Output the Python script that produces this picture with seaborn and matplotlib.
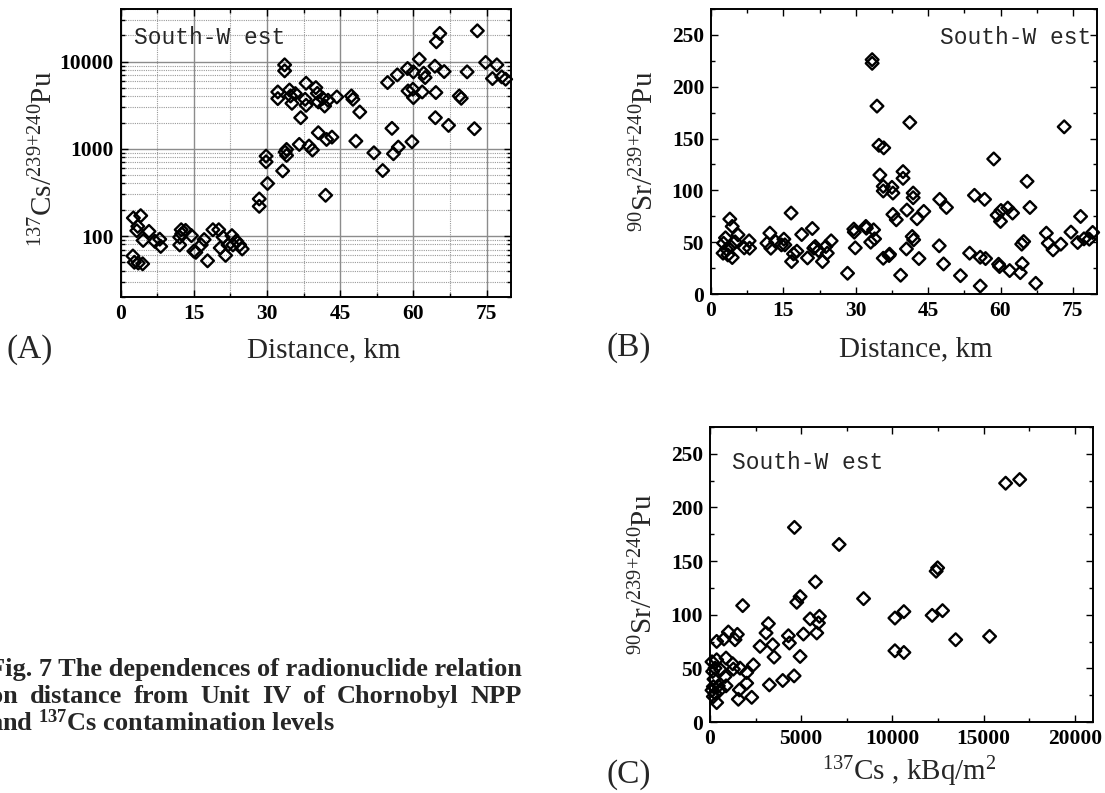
import numpy as np
import matplotlib
matplotlib.use('Agg')
import matplotlib.pyplot as plt
from matplotlib.ticker import MultipleLocator, LogLocator, FixedLocator, NullFormatter, FuncFormatter
import seaborn as sns

# Panel A: 137Cs / 239+240Pu vs distance (log scale)
dist_a = [2.6, 4.1, 3.5, 3.3, 5.8, 4.6, 2.5, 2.8, 3.6, 4.5, 7.0, 8.0, 8.2, 12.1, 12.1, 12.4, 12.5,
          13.3, 14.5, 15.0, 15.4, 16.5, 17.1, 17.8, 18.9, 20.1, 21.0, 20.4, 21.5, 22.0, 22.8, 23.7,
          23.0, 24.4, 24.9, 28.4, 28.4, 29.8, 29.8, 30.1, 32.2, 32.2, 33.2, 33.6, 33.6, 34.0, 34.0,
          33.7, 34.6, 34.8, 35.1, 35.8, 36.6, 36.9, 38.0, 37.8, 38.0, 38.6, 39.3, 40.0, 40.3, 40.5,
          40.5, 41.4, 41.8, 42.0, 42.2, 42.5, 43.3, 44.3, 47.3, 47.6, 48.2, 49.0, 51.9, 53.7, 54.7,
          55.6, 55.9, 56.7, 56.9, 58.8, 58.9, 59.7, 59.9, 60.0, 60.0, 61.2, 61.8, 62.1, 62.4, 64.4,
          64.5, 64.6, 64.7, 65.4, 66.3, 67.2, 69.4, 69.8, 71.0, 72.5, 73.1, 74.8, 76.2, 77.1, 78.1,
          78.9]
ratio_cs_pu = [161, 171, 129, 115, 113, 89, 59, 50, 49, 48, 87, 92, 76, 79, 97, 118, 106, 116, 101,
               67, 65, 79, 91, 52, 118, 118, 97, 73, 60, 79, 101, 88, 79, 79, 71, 266, 219, 824,
               709, 400, 4480, 3760, 558, 9160, 7820, 982, 838, 916, 4720, 4030, 3320, 4290, 1122,
               2270, 5640, 3690, 3150, 1074, 967, 5020, 4320, 3440, 1528, 3790, 3090, 293, 1280,
               3600, 1360, 3930, 4030, 3690, 1225, 2640, 899, 563, 5740, 1714, 877, 7030, 1045,
               8310, 4600, 1203, 4810, 7610, 3860, 10630, 4480, 7350, 6550, 8840, 2270, 4410,
               16830, 21000, 7670, 1853, 4030, 3790, 7610, 1698, 22500, 9750, 6380, 9160, 6670,
               6270]

# Panel B: 90Sr / 239+240Pu vs distance
dist_b = [2.5, 2.6, 3.0, 3.2, 3.5, 3.9, 4.1, 4.4, 4.4, 5.0, 5.6, 6.9, 7.9, 8.0, 11.6, 12.2, 12.4,
          13.4, 14.6, 15.1, 15.3, 16.6, 16.7, 17.1, 17.8, 18.8, 20.0, 21.0, 21.3, 21.6, 22.3, 23.1,
          23.8, 24.1, 24.9, 28.3, 29.6, 29.7, 29.9, 32.1, 32.2, 33.1, 33.4, 33.4, 33.7, 33.9, 34.4,
          34.8, 35.0, 35.8, 35.7, 35.7, 35.7, 36.9, 37.0, 37.5, 37.7, 37.7, 38.4, 39.3, 39.8, 39.8,
          40.5, 40.6, 41.2, 41.7, 41.9, 41.9, 42.0, 42.7, 43.1, 44.1, 47.3, 47.4, 48.2, 48.8, 51.7,
          53.6, 54.6, 55.8, 55.8, 56.7, 56.9, 58.6, 59.3, 59.6, 59.8, 60.0, 60.1, 61.5, 61.9, 62.5,
          64.1, 64.4, 64.5, 64.8, 65.5, 66.1, 67.3, 69.5, 69.9, 70.9, 72.5, 73.2, 74.6, 76.0, 76.6,
          77.3, 78.4, 79.1]
ratio_sr_pu_b = [39.4, 49.0, 54.2, 43.2, 37.7, 72.3, 45.8, 35.2, 65.2, 50.3, 57.1, 44.5, 51.3, 44.2,
                 49.0, 58.7, 44.2, 50.6, 47.4, 52.9, 47.4, 78.1, 31.3, 38.7, 41.3, 57.4, 34.8, 63.2,
                 44.2, 45.8, 41.9, 31.3, 45.8, 39.4, 51.3, 20.0, 62.6, 59.7, 44.5, 65.2, 63.5, 50.0,
                 226.1, 222.6, 61.9, 53.2, 181.3, 143.5, 114.8, 141.0, 103.9, 99.4, 34.5, 37.1, 38.4,
                 102.9, 97.4, 76.8, 71.6, 18.1, 118.1, 111.6, 43.5, 81.0, 165.5, 55.5, 97.4, 92.9,
                 52.3, 72.6, 34.2, 79.7, 46.5, 91.3, 29.0, 83.5, 17.7, 39.4, 95.2, 7.7, 35.5, 91.3,
                 34.2, 130.3, 76.1, 28.7, 26.5, 70.0, 80.6, 82.9, 22.6, 78.1, 20.6, 48.1, 29.4, 50.6,
                 108.7, 83.5, 10.3, 58.7, 49.0, 42.6, 48.1, 161.3, 59.7, 49.7, 74.8, 53.2, 52.9, 59.4]

# Panel C: 90Sr / 239+240Pu vs 137Cs contamination
cs_level = [16210, 16980, 4630, 7080, 12400, 12480, 5780, 8420, 4940, 10140, 10630, 12180, 12750,
            10140, 10630, 13470, 15330, 366, 765, 1006, 1372, 1500, 366, 274, 878, 1244, 1281, 1646,
            2378, 2012, 220, 823, 2012, 457, 878, 274, 1610, 1555, 2287, 366, 2744, 3073, 3202,
            3439, 3512, 3256, 3988, 4610, 4299, 4354, 4939, 5122, 5488, 6000, 5945, 5854, 4756,
            1793, 146, 183, 183, 549, 585, 110, 110]
ratio_sr_pu_c = [222.6, 226.0, 181.4, 165.5, 140.6, 143.7, 130.6, 115.0, 116.9, 96.9, 102.9, 99.4,
                 103.8, 66.4, 64.8, 76.7, 79.8, 75.1, 77.4, 83.9, 76.7, 81.7, 58.0, 50.2, 59.6, 54.3,
                 49.3, 50.2, 53.3, 46.1, 39.9, 42.4, 36.2, 33.7, 33.7, 26.8, 29.9, 21.2, 23.0, 18.1,
                 70.5, 83.0, 91.7, 72.0, 60.5, 34.6, 38.7, 43.0, 80.4, 73.6, 61.1, 82.0, 96.1, 98.5,
                 92.3, 83.0, 111.6, 108.5, 47.1, 33.0, 23.7, 29.9, 48.6, 56.1, 29.6]

region_label = "South-W est"
caption_lines = [
    "Fig. 7 The dependences of radionuclide relation",
    "on distance from Unit IV of Chornobyl NPP",
    r"and $^{\mathbf{137}}$Cs contamination levels",
]
W, H = 1105, 793

sns.set_style("ticks")
plt.rcParams['font.family'] = ['Liberation Serif', 'DejaVu Serif']
plt.rcParams['mathtext.fontset'] = 'custom'
plt.rcParams['mathtext.rm'] = 'Liberation Serif'
plt.rcParams['mathtext.it'] = 'Liberation Serif:italic'
plt.rcParams['mathtext.bf'] = 'Liberation Serif:bold'
plt.rcParams['mathtext.default'] = 'regular'

TICK_FS = 15.5
LABEL_FS = 21
SR_LABEL = r"$^{90}$Sr/$^{239{+}240}$Pu"
CS_LABEL = r"$^{137}$Cs/$^{239{+}240}$Pu"


def px_axes(fig, left, top, right, bottom):
    return fig.add_axes([left / W, 1 - bottom / H, (right - left) / W, (bottom - top) / H])


def style_axes(ax):
    for sp in ax.spines.values():
        sp.set_linewidth(1.4)
        sp.set_color('black')
    ax.tick_params(which='both', direction='in', top=True, right=True, width=1.0, colors='black')
    ax.tick_params(which='major', length=5, pad=5)
    ax.tick_params(which='minor', length=3)
    for lab in ax.get_xticklabels() + ax.get_yticklabels():
        lab.set_fontweight('bold')
        lab.set_fontsize(TICK_FS)


def scatter(ax, x, y):
    sns.scatterplot(x=x, y=y, ax=ax, marker='D', s=42, facecolor='none',
                    edgecolor='black', linewidth=1.7, legend=False, zorder=3, clip_on=False)


def text_width(fig, renderer, s, **kw):
    tmp = fig.text(0, 0, s, **kw)
    w = tmp.get_window_extent(renderer).width
    tmp.remove()
    return w


def justified_line(fig, renderer, line, x0, x1, y, **kw):
    words = line.split()
    widths = [text_width(fig, renderer, w, **kw) for w in words]
    gap = (x1 - x0 - sum(widths)) / (len(words) - 1)
    xpos = x0
    for w, wd in zip(words, widths):
        fig.text(xpos / W, 1 - y / H, w, **kw)
        xpos += wd + gap


fig = plt.figure(figsize=(W / 100, H / 100), dpi=100)

# ---- Panel A ----
ax1 = px_axes(fig, 120.7, 9, 511, 297)
ax1.set_yscale('log')
scatter(ax1, dist_a, ratio_cs_pu)
ax1.set_xlim(0, 80)
ax1.set_ylim(20, 40000)
ax1.xaxis.set_major_locator(MultipleLocator(15))
ax1.xaxis.set_minor_locator(MultipleLocator(7.5))
ax1.yaxis.set_major_locator(FixedLocator([100, 1000, 10000]))
ax1.yaxis.set_minor_locator(LogLocator(base=10, subs=np.arange(2, 10), numticks=20))
ax1.yaxis.set_major_formatter(FuncFormatter(lambda v, p: f"{int(round(v))}"))
ax1.yaxis.set_minor_formatter(NullFormatter())
ax1.grid(which='major', color='#8c8c8c', lw=1.0, ls='-')
ax1.grid(which='minor', color='#9a9a9a', lw=0.8, ls=(0, (1, 1)))
ax1.set_axisbelow(True)
ax1.set_xlabel("Distance, km", fontsize=LABEL_FS)
ax1.set_ylabel(CS_LABEL, fontsize=LABEL_FS)
style_axes(ax1)
ax1.text(0.033, 0.9, region_label, transform=ax1.transAxes, fontsize=16.5,
         family='Liberation Mono', va='center', ha='left')

# ---- Panel B ----
ax2 = px_axes(fig, 711, 9, 1097, 294)
scatter(ax2, dist_b, ratio_sr_pu_b)
ax2.set_xlim(0, 80)
ax2.set_ylim(0, 275)
ax2.xaxis.set_major_locator(MultipleLocator(15))
ax2.xaxis.set_minor_locator(MultipleLocator(7.5))
ax2.yaxis.set_major_locator(MultipleLocator(50))
ax2.yaxis.set_minor_locator(MultipleLocator(25))
ax2.set_xlabel("Distance, km", fontsize=LABEL_FS)
ax2.set_ylabel(SR_LABEL, fontsize=LABEL_FS)
style_axes(ax2)
ax2.text(0.985, 0.9, region_label, transform=ax2.transAxes, fontsize=16.5,
         family='Liberation Mono', va='center', ha='right')

# ---- Panel C ----
ax3 = px_axes(fig, 710, 427, 1093, 722)
scatter(ax3, cs_level, ratio_sr_pu_c)
ax3.set_xlim(0, 21000)
ax3.set_ylim(0, 275)
ax3.xaxis.set_major_locator(MultipleLocator(5000))
ax3.xaxis.set_minor_locator(MultipleLocator(2500))
ax3.yaxis.set_major_locator(MultipleLocator(50))
ax3.yaxis.set_minor_locator(MultipleLocator(25))
ax3.set_xlabel(r"$^{137}$Cs , kBq/m$^{2}$", fontsize=LABEL_FS)
ax3.set_ylabel(SR_LABEL, fontsize=LABEL_FS)
style_axes(ax3)
ax3.text(0.058, 0.88, region_label, transform=ax3.transAxes, fontsize=16.5,
         family='Liberation Mono', va='center', ha='left')

# panel letters
fig.text(7 / W, 1 - 350 / H, "(A)", fontsize=24, va='center', ha='left')
fig.text(607 / W, 1 - 348 / H, "(B)", fontsize=24, va='center', ha='left')
fig.text(607 / W, 1 - 775 / H, "(C)", fontsize=24, va='center', ha='left')

# caption (cut at the left edge as in the scan); line 2 justified to line 1
fig.canvas.draw()
renderer = fig.canvas.get_renderer()
cap_kw = dict(fontsize=19, fontweight='bold', va='baseline', ha='left')
t1 = fig.text(-11 / W, 1 - 676 / H, caption_lines[0], **cap_kw)
line_end = -11 + t1.get_window_extent(renderer).width
justified_line(fig, renderer, caption_lines[1], -10, line_end, 703, **cap_kw)
fig.text(-11 / W, 1 - 731 / H, caption_lines[2], **cap_kw)

fig.canvas.draw()
ax1.xaxis.set_label_coords(0.52, -0.14)
ax2.xaxis.set_label_coords(0.53, -0.15)
ax3.xaxis.set_label_coords(0.52, -0.11)
ax1.yaxis.set_label_coords(-0.16, 0.48)
ax2.yaxis.set_label_coords(-0.135, 0.5)
ax3.yaxis.set_label_coords(-0.135, 0.5)

fig.savefig("out.png", dpi=100)
plt.close(fig)
